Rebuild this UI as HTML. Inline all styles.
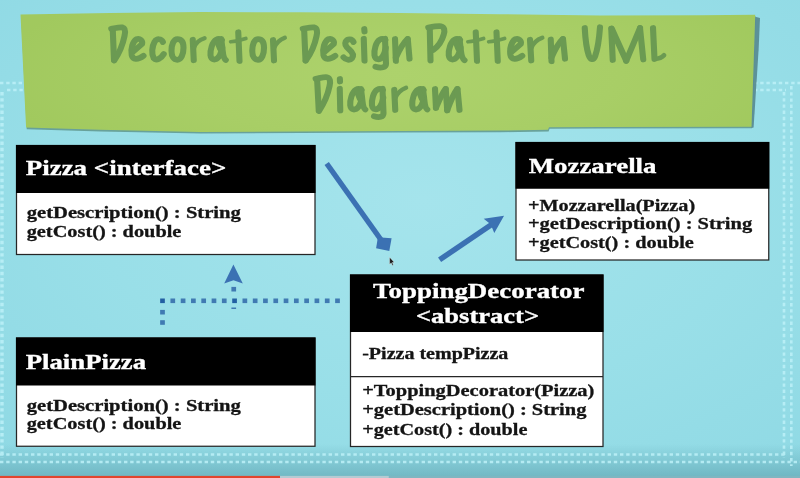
<!DOCTYPE html>
<html>
<head>
<meta charset="utf-8">
<title>Decorator Design Pattern UML Diagram</title>
<style>
html,body{margin:0;padding:0;width:800px;height:478px;overflow:hidden;background:#97dde6;}
svg{display:block;position:absolute;left:0;top:0;filter:blur(0.45px);}
text{font-family:"Liberation Serif",serif;font-weight:bold;}
.h{fill:#fff;font-size:22px;stroke:#fff;stroke-width:0.35px;}
.b{fill:#141414;font-size:17px;stroke:#141414;stroke-width:0.3px;}
.t{font-family:"Liberation Sans",sans-serif;font-weight:bold;fill:#6a9c52;}
</style>
</head>
<body>
<svg width="800" height="478" viewBox="0 0 800 478">
<defs>
<radialGradient id="bg" cx="0.53" cy="0.42" r="0.75">
<stop offset="0" stop-color="#a5e4ec"/>
<stop offset="0.55" stop-color="#99dfe8"/>
<stop offset="1" stop-color="#8fd9e4"/>
</radialGradient>
<linearGradient id="bot" x1="0" y1="0" x2="0" y2="1">
<stop offset="0" stop-color="#5aa0ad" stop-opacity="0"/>
<stop offset="1" stop-color="#5aa0ad" stop-opacity="0.62"/>
</linearGradient>
<filter id="soft" x="-5%" y="-5%" width="110%" height="110%"><feGaussianBlur stdDeviation="0.6"/></filter>
<filter id="soft2" x="-5%" y="-20%" width="110%" height="140%"><feGaussianBlur stdDeviation="0.35"/></filter>
<radialGradient id="bn" gradientUnits="userSpaceOnUse" cx="400" cy="75" r="400" gradientTransform="translate(0 52) scale(1 0.3)">
<stop offset="0" stop-color="#add26c"/>
<stop offset="0.55" stop-color="#a8ce66"/>
<stop offset="1" stop-color="#a1c95e"/>
</radialGradient>
</defs>
<rect x="0" y="0" width="800" height="478" fill="url(#bg)"/>

<!-- bottom shade -->
<rect x="0" y="444" width="800" height="34" fill="url(#bot)"/>

<!-- decorative dotted lines -->
<g id="deco" stroke="#bdf1f8" stroke-width="2.6" stroke-dasharray="3.4 2.8" fill="none" opacity="0.85" filter="url(#soft)">
<path d="M0 83 H24"/>
<path d="M7 90 H24"/>
<path d="M2 92 V458" stroke-width="3.4"/>
<path d="M754 83 H800"/>
<path d="M754 90 H786"/>
<path d="M784 92 V458"/>
<path d="M791.3 86 V466"/>
<path d="M0 454.5 H786"/>
<path d="M0 462 H800"/>
</g>

<!-- banner -->
<g filter="url(#soft)">
<path d="M20.5 14.5 L110 13 L200 12 L300 12.3 L400 13 L500 14.2 L600 15.4 L700 15.2 L755.2 14.8 L751.5 126.7 L600 127 L549 127.2 L548 129.8 L500 130.6 L400 131 L300 131.5 L200 132 L100 129.8 L26.1 127.6 Z" transform="translate(0.6 1.6)" fill="#5f968c" opacity="0.85"/>
<path d="M755.2 16.8 L760 18 L758.6 50 L753.6 127.6 L751.5 128 L751.5 126 Z" fill="#5a8c93" opacity="0.95"/>
</g>
<path d="M20.5 14.5 L110 13 L200 12 L300 12.3 L400 13 L500 14.2 L600 15.4 L700 15.2 L755.2 14.8 L751.5 126.7 L600 127 L549 127.2 L548 129.8 L500 130.6 L400 131 L300 131.5 L200 132 L100 129.8 L26.1 127.6 Z" fill="url(#bn)"/>

<!-- title -->
<g id="title" fill="none" stroke="#6b9a52" stroke-linecap="round" stroke-linejoin="round" stroke-width="46">
<g transform="translate(100 15) scale(0.1325 0.125)">
<path d="M 96.2 114 L 105.7 360"/>
<path d="M 84.9 110 C 117.0 104 150.9 95 167.9 99 C 190.6 105 192.5 134 184.9 168 C 173.6 228 143.4 308 107.5 364"/>
<path d="M 245.3 298 L 317.0 232 C 324.5 204 300.0 184 275.5 194 C 247.2 212 230.2 270 239.6 322 C 247.2 358 284.9 362 328.3 326"/>
<path d="M 474.5 216 C 462.3 188 431.1 186 412.3 214 C 392.5 250 386.8 312 405.7 346 C 424.5 370 462.3 346 481.1 312"/>
<path d="M 584.9 192 C 556.6 192 539.6 235 539.6 285 C 539.6 335 558.5 358 583.0 358 C 611.3 358 630.2 315 630.2 262 C 630.2 215 613.2 192 584.9 192 Z"/>
</g>
<g transform="translate(190 15) scale(0.1325 0.125)">
<path d="M 20.8 198 L 28.3 362"/>
<path d="M 30.2 262 C 43.4 222 77.4 196 109.4 186" stroke-width="34"/>
<path d="M 239.6 200 C 213.2 180 181.1 196 164.2 250 C 147.2 305 150.9 352 179.2 356 C 209.4 358 232.1 320 243.4 262"/>
<path d="M 235.8 192 L 247.2 292 C 250.9 326 256.6 350 269.8 360"/>
<path d="M 211.3 226 L 227.4 270"/>
<path d="M 364.2 138 L 373.6 368"/>
<path d="M 307.5 214 C 339.6 212 386.8 200 420.8 188" stroke-width="30"/>
<path d="M 514.2 192 C 485.8 192 469.8 235 469.8 285 C 469.8 335 488.7 358 513.2 358 C 541.5 358 558.5 315 558.5 262 C 558.5 215 542.5 192 514.2 192 Z"/>
<path d="M 626.4 200 L 634.0 364"/>
<path d="M 635.8 262 C 650.9 222 684.9 194 715.1 182" stroke-width="34"/>
</g>
<g transform="translate(290 15) scale(0.1325 0.125)">
<path d="M 106.6 114 L 117.0 362"/>
<path d="M 96.2 110 C 128.3 104 162.3 95 181.1 99 C 205.7 105 208.5 136 200.0 170 C 188.7 230 156.6 310 118.9 366"/>
<path d="M 258.5 298 L 330.2 232 C 337.7 204 313.2 184 288.7 194 C 260.4 212 243.4 270 252.8 322 C 260.4 358 298.1 362 341.5 326"/>
<path d="M 479.2 216 C 467.9 190 435.8 188 420.8 212 C 409.4 236 426.4 258 447.2 276 C 471.7 298 483.0 322 467.9 346 C 452.8 366 420.8 360 403.8 338"/>
<path d="M 556.6 190 L 562.3 366"/>
<path d="M 560.4 112 L 562.3 132"/>
<path d="M 718.9 200 C 692.5 180 660.4 196 645.3 250 C 630.2 305 634.0 350 662.3 354 C 690.6 356 713.2 320 722.6 262"/>
<path d="M 717.0 190 L 724.5 390 C 724.5 420 688.7 428 645.3 414"/>
</g>
<g transform="translate(370 15) scale(0.1325 0.125)">
<path d="M 188.7 192 L 195.3 368"/>
<path d="M 195.3 340 C 217.0 290 254.7 220 283.0 192"/>
<path d="M 284.9 192 L 298.1 350"/>
<path d="M 450.9 104 L 456.6 364"/>
<path d="M 439.6 100 C 471.7 94 514.2 86 535.8 90 C 562.3 96 566.0 124 556.6 156 C 543.4 206 517.0 250 477.4 280"/>
<path d="M 679.2 200 C 652.8 180 620.8 196 603.8 250 C 586.8 305 590.6 352 618.9 356 C 649.1 358 671.7 320 683.0 262"/>
<path d="M 675.5 192 L 686.8 292 C 690.6 326 698.1 350 713.2 362"/>
<path d="M 650.9 226 L 667.0 270"/>
</g>
<g transform="translate(450 15) scale(0.1325 0.125)">
<path d="M 194.3 138 L 203.8 368"/>
<path d="M 135.8 214 C 167.9 212 217.0 200 252.8 188" stroke-width="30"/>
<path d="M 350.9 138 L 360.4 368"/>
<path d="M 292.5 214 C 324.5 212 373.6 200 411.3 188" stroke-width="30"/>
<path d="M 462.3 298 L 534.0 232 C 541.5 204 517.0 184 492.5 194 C 464.2 212 447.2 270 456.6 322 C 464.2 358 501.9 362 545.3 326"/>
<path d="M 603.8 198 L 613.2 364"/>
<path d="M 615.1 262 C 630.2 222 664.2 194 696.2 182" stroke-width="34"/>
</g>
<g transform="translate(530 15) scale(0.1325 0.125)">
<path d="M 156.6 196 L 162.3 370"/>
<path d="M 162.3 340 C 183.0 290 218.9 220 247.2 192"/>
<path d="M 249.1 192 L 264.2 350"/>
<path d="M 413.2 104 C 417.0 180 426.4 270 443.4 322 C 454.7 360 479.2 366 492.5 326 C 509.4 276 522.6 180 528.3 98"/>
</g>
<g transform="translate(590 15) scale(0.1325 0.125)">
<path d="M 160.4 108 L 171.7 360"/>
<path d="M 164.2 110 L 273.6 366"/>
<path d="M 273.6 366 L 377.4 104"/>
<path d="M 377.4 104 L 401.9 356"/>
<path d="M 475.5 104 L 486.8 352"/>
<path d="M 486.8 352 C 518.9 350 545.3 338 558.5 322" stroke-width="36"/>
</g>
<g transform="translate(300 65) scale(0.1325 0.125)">
<path d="M 129.2 114 L 141.5 362"/>
<path d="M 117.9 110 C 150.9 104 184.9 94 203.8 98 C 228.3 104 231.1 136 222.6 170 C 211.3 230 179.2 310 143.4 368"/>
<path d="M 300.0 190 L 303.8 364"/>
<path d="M 300.9 112 L 301.9 132"/>
<path d="M 464.2 200 C 437.7 180 405.7 196 388.7 250 C 371.7 305 375.5 352 403.8 356 C 434.0 358 456.6 320 467.9 262"/>
<path d="M 460.4 192 L 471.7 292 C 475.5 326 479.2 346 492.5 356"/>
<path d="M 435.8 226 L 451.9 270"/>
<path d="M 624.5 200 C 598.1 180 566.0 196 550.9 250 C 535.8 305 539.6 350 567.9 354 C 596.2 356 618.9 320 628.3 262"/>
<path d="M 622.6 190 L 630.2 386 C 630.2 416 598.1 424 558.5 410"/>
</g>
<g transform="translate(380 65) scale(0.1325 0.125)">
<path d="M 107.5 198 L 115.1 360"/>
<path d="M 117.0 262 C 132.1 222 166.0 194 196.2 182" stroke-width="34"/>
<path d="M 328.3 200 C 301.9 180 269.8 196 252.8 250 C 235.8 305 239.6 352 267.9 356 C 298.1 358 320.8 320 332.1 262"/>
<path d="M 324.5 192 L 335.8 292 C 339.6 326 343.4 346 356.6 356"/>
<path d="M 300.0 226 L 316.0 270"/>
<path d="M 415.1 192 L 422.6 344"/>
<path d="M 422.6 340 C 443.4 290 471.7 220 494.3 192"/>
<path d="M 496.2 192 L 507.5 364"/>
<path d="M 507.5 360 C 528.3 300 560.4 224 583.0 192"/>
<path d="M 584.9 192 L 600.0 360"/>
</g>
</g>

<!-- Pizza box -->
<rect x="16.5" y="145.5" width="298.5" height="109" fill="#fff" stroke="#262626" stroke-width="1.25"/>
<rect x="16" y="145" width="299.5" height="48" fill="#000"/>
<text class="h" x="25.75" y="175" textLength="200.5" lengthAdjust="spacingAndGlyphs">Pizza &lt;interface&gt;</text>
<text class="b" x="26.7" y="218" textLength="214.2" lengthAdjust="spacingAndGlyphs">getDescription() : String</text>
<text class="b" x="26.7" y="237" textLength="154.7" lengthAdjust="spacingAndGlyphs">getCost() : double</text>

<!-- PlainPizza box -->
<rect x="16.5" y="338" width="298.5" height="108.25" fill="#fff" stroke="#262626" stroke-width="1.25"/>
<rect x="16" y="337.5" width="299.5" height="48" fill="#000"/>
<text class="h" x="25.75" y="368.75" textLength="120.25" lengthAdjust="spacingAndGlyphs">PlainPizza</text>
<text class="b" x="26.7" y="410.5" textLength="214.2" lengthAdjust="spacingAndGlyphs">getDescription() : String</text>
<text class="b" x="26.7" y="429.25" textLength="154.7" lengthAdjust="spacingAndGlyphs">getCost() : double</text>

<!-- Mozzarella box -->
<rect x="516" y="142.5" width="252.75" height="117.5" fill="#fff" stroke="#262626" stroke-width="1.25"/>
<rect x="515.5" y="142" width="253.75" height="46.75" fill="#000"/>
<text class="h" x="528.75" y="172.5" textLength="127.75" lengthAdjust="spacingAndGlyphs">Mozzarella</text>
<text class="b" x="527.95" y="210.5" textLength="167.2" lengthAdjust="spacingAndGlyphs">+Mozzarella(Pizza)</text>
<text class="b" x="527.95" y="228.75" textLength="224.2" lengthAdjust="spacingAndGlyphs">+getDescription() : String</text>
<text class="b" x="527.95" y="247.5" textLength="165.95" lengthAdjust="spacingAndGlyphs">+getCost() : double</text>

<!-- ToppingDecorator box -->
<rect x="350.5" y="275" width="252.5" height="171.5" fill="#fff" stroke="#262626" stroke-width="1.25"/>
<rect x="350" y="274.5" width="253.5" height="57.5" fill="#000"/>
<line x1="350.5" y1="376.5" x2="603" y2="376.5" stroke="#262626" stroke-width="1.25"/>
<text class="h" x="373" y="297.5" textLength="211.5" lengthAdjust="spacingAndGlyphs">ToppingDecorator</text>
<text class="h" x="416" y="322.5" textLength="123" lengthAdjust="spacingAndGlyphs">&lt;abstract&gt;</text>
<text class="b" x="362.2" y="358.6" textLength="146.2" lengthAdjust="spacingAndGlyphs">-Pizza tempPizza</text>
<text class="b" x="362.2" y="395.7" textLength="232.2" lengthAdjust="spacingAndGlyphs">+ToppingDecorator(Pizza)</text>
<text class="b" x="362.2" y="415" textLength="224.2" lengthAdjust="spacingAndGlyphs">+getDescription() : String</text>
<text class="b" x="362.2" y="434.5" textLength="165.2" lengthAdjust="spacingAndGlyphs">+getCost() : double</text>

<!-- arrows -->
<g stroke="#3b71b3" fill="#3b71b3">
<line x1="326.7" y1="163.5" x2="381.5" y2="240.5" stroke-width="5.3"/>
<path d="M377.9 237.3 L391.6 238.2 L389.3 251.1 L376.1 248.3 Z" stroke="none"/>
<line x1="439.6" y1="259.8" x2="492" y2="224.2" stroke-width="5.5"/>
<path d="M504.05 215.8 L483.7 218.8 L490.6 224.2 L494.3 233.1 Z" stroke="none"/>
</g>
<!-- dotted -->
<g fill="#3f7ab2" filter="url(#soft2)">
<rect x="160.15" y="298.50" width="4.7" height="4.6" fill="#2460a3"/>
<rect x="170.44" y="298.50" width="4.7" height="4.6"/>
<rect x="180.74" y="298.50" width="4.7" height="4.6"/>
<rect x="191.03" y="298.50" width="4.7" height="4.6"/>
<rect x="201.33" y="298.50" width="4.7" height="4.6"/>
<rect x="211.62" y="298.50" width="4.7" height="4.6"/>
<rect x="221.91" y="298.50" width="4.7" height="4.6"/>
<rect x="232.21" y="298.50" width="4.7" height="4.6" fill="#2460a3"/>
<rect x="242.50" y="298.50" width="4.7" height="4.6"/>
<rect x="252.80" y="298.50" width="4.7" height="4.6"/>
<rect x="263.09" y="298.50" width="4.7" height="4.6"/>
<rect x="273.39" y="298.50" width="4.7" height="4.6"/>
<rect x="283.68" y="298.50" width="4.7" height="4.6"/>
<rect x="293.97" y="298.50" width="4.7" height="4.6"/>
<rect x="304.27" y="298.50" width="4.7" height="4.6"/>
<rect x="314.56" y="298.50" width="4.7" height="4.6"/>
<rect x="324.86" y="298.50" width="4.7" height="4.6"/>
<rect x="335.15" y="298.50" width="4.7" height="4.6"/>
<rect x="160.15" y="309.90" width="4.7" height="4.6"/>
<rect x="160.15" y="320.20" width="4.7" height="4.6"/>
<rect x="231.40" y="286.90" width="4.7" height="4.6"/>
<rect x="231.40" y="307.50" width="4.7" height="1.5"/>
</g>
<path d="M233.4 264.6 L242.8 283.4 L233.5 280.2 L224.2 283.4 Z" fill="#3b71b3"/>

<!-- cursor -->
<path d="M389.6 257.2 L389.6 264.2 L391.2 262.9 L392.4 265.4 L393.4 264.9 L392.3 262.5 L394.2 262.3 Z" fill="#1c1c1c" stroke="#e8f4f6" stroke-width="0.4"/>

<!-- progress bar -->
<rect x="0" y="475.9" width="800" height="2.1" fill="#7fb6c1"/>
<rect x="280" y="475.9" width="108.75" height="2.1" fill="#b4cbd3"/>
<rect x="0" y="475.9" width="280" height="2.1" fill="#e2452e"/>
</svg>
</body>
</html>
